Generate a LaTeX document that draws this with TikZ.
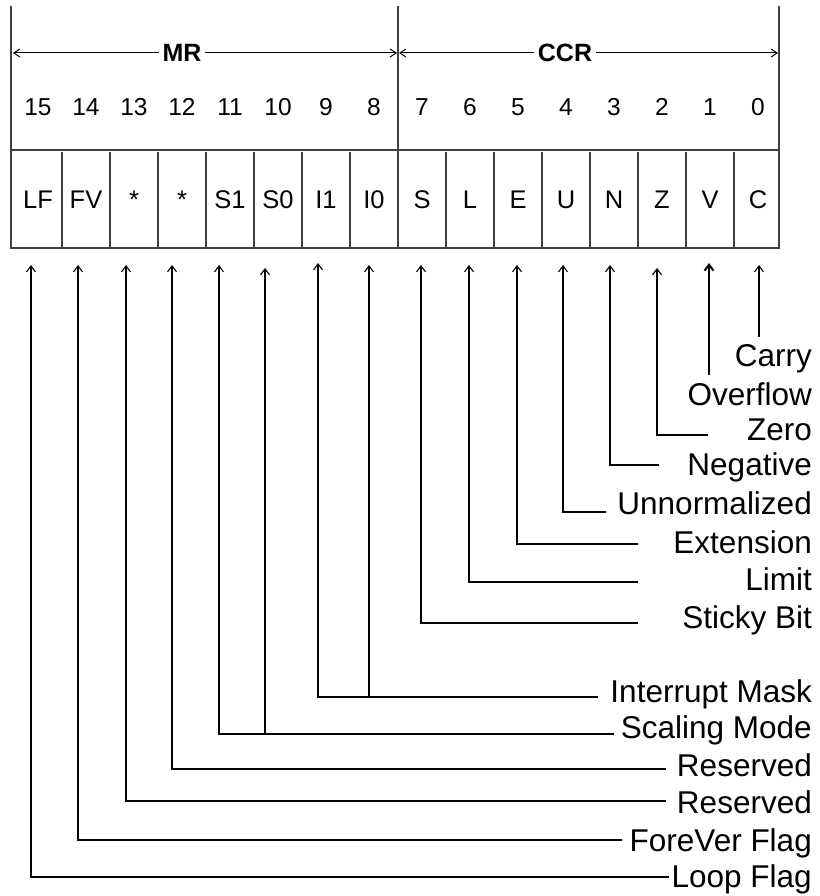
\documentclass[tikz,border=0pt]{standalone}
\usepackage{fontspec}
\setmainfont{Liberation Sans}
\usetikzlibrary{arrows.meta}
\begin{document}
\begin{tikzpicture}[x=1pt,y=-1pt,
  frame/.style={line width=1.5pt,draw=black!75},
  bitnum/.style={font=\fontsize{24.5}{24.5}\selectfont,inner sep=0pt},
  cellt/.style={font=\fontsize{25.5}{25.5}\selectfont,inner sep=0pt},
  lab/.style={anchor=base east,inner sep=0pt,font=\fontsize{31.5}{32}\selectfont},
  conn/.style={line width=1.1pt,-{Straight Barb[length=6pt,width=9pt]}},
  connb/.style={line width=2pt,-{Straight Barb[length=6pt,width=9pt]}},
  head/.style={line width=1pt,{Straight Barb[length=6pt,width=8pt]}-{Straight Barb[length=6pt,width=8pt]}},
  regtitle/.style={font=\bfseries\fontsize{25}{25}\selectfont,fill=white,inner sep=4pt}]
\useasboundingbox (0,0) rectangle (819,896);

% frame
\draw[frame] (11,6) -- (11,248) -- (779,248) -- (779,6);
\draw[frame] (398,6) -- (398,248);
\draw[frame] (11,150) -- (779,150);
\foreach \i in {1,...,7,9,10,...,15}{
  \draw[frame] (14+48*\i,152) -- (14+48*\i,248);
}

% header arrows
\coordinate (mrL) at (13,53);
\coordinate (mrR) at (397,53);
\coordinate (ccrL) at (399,53);
\coordinate (ccrR) at (778,53);
\draw[head] (mrL) -- (mrR);
\draw[head] (ccrL) -- (ccrR);
\node[regtitle] (MR) at (182,53) {MR};
\node[regtitle] (CCR) at (565,53) {CCR};

% bit numbers and cell texts
\foreach \t [count=\i from 0] in {LF,FV,*,*,S1,S0,I1,I0,S,L,E,U,N,Z,V,C}{
  \pgfmathtruncatemacro\b{15-\i}
  \node[bitnum] (b\b) at (38+48*\i,107) {\b};
  \node[cellt] (c\b) at (38+48*\i,200) {\t};
}

% arrow tips below the cells
\coordinate (t15) at (31,265);
\coordinate (t14) at (78,265);
\coordinate (t13) at (126,265);
\coordinate (t12) at (172,265);
\coordinate (t11) at (219,265);
\coordinate (t10) at (265,268);
\coordinate (t9) at (318,263);
\coordinate (t8) at (369,265);
\coordinate (t7) at (421,265);
\coordinate (t6) at (469,265);
\coordinate (t5) at (517,265);
\coordinate (t4) at (563,265);
\coordinate (t3) at (610,265);
\coordinate (t2) at (657,268);
\coordinate (t1) at (709,263);
\coordinate (t0) at (759,265);

% labels
\node[lab] (lC) at (812,366) {Carry};
\node[lab] (lV) at (812,405) {Overflow};
\node[lab] (lZ) at (812,440) {Zero};
\node[lab] (lN) at (812,475) {Negative};
\node[lab] (lU) at (812,514) {Unnormalized};
\node[lab] (lE) at (812,553) {Extension};
\node[lab] (lL) at (812,590) {Limit};
\node[lab] (lS) at (812,628) {Sticky Bit};
\node[lab] (lI) at (812,702) {Interrupt Mask};
\node[lab] (lSM) at (812,738) {Scaling Mode};
\node[lab] (lR1) at (812,776) {Reserved};
\node[lab] (lR2) at (812,813) {Reserved};
\node[lab] (lFV) at (812,851) {ForeVer Flag};
\node[lab] (lLF) at (812,887) {Loop Flag};

% line ends near the labels
\coordinate (eC) at (759,337);
\coordinate (eV) at (709,375);
\coordinate (eZ) at (708,435);
\coordinate (eN) at (659,465);
\coordinate (eU) at (606,512);
\coordinate (eE) at (638,544);
\coordinate (eL) at (638,582);
\coordinate (eS) at (638,623);
\coordinate (eI) at (598,697);
\coordinate (eI0) at (369,697);
\coordinate (eSM) at (614,734);
\coordinate (eS0) at (265,734);
\coordinate (eR1) at (666,769);
\coordinate (eR2) at (666,801);
\coordinate (eFV) at (622,840);
\coordinate (eLF) at (669,877);

% connectors
\draw[conn] (eC) -- (t0);
\draw[connb] (eV) -- (t1);
\draw[conn] (eZ) -| (t2);
\draw[conn] (eN) -| (t3);
\draw[conn] (eU) -| (t4);
\draw[conn] (eE) -| (t5);
\draw[conn] (eL) -| (t6);
\draw[conn] (eS) -| (t7);
\draw[conn] (eI) -| (t9);
\draw[conn] (eI0) -- (t8);
\draw[conn] (eSM) -| (t11);
\draw[conn] (eS0) -- (t10);
\draw[conn] (eR1) -| (t12);
\draw[conn] (eR2) -| (t13);
\draw[conn] (eFV) -| (t14);
\draw[conn] (eLF) -| (t15);
\end{tikzpicture}
\end{document}
